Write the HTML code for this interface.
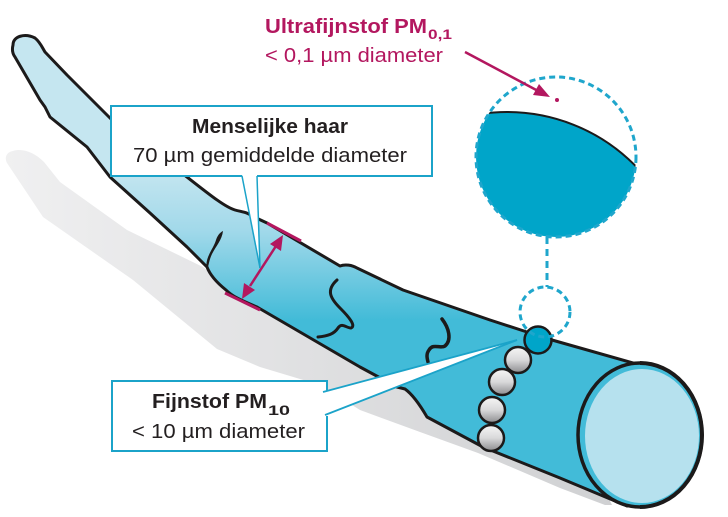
<!DOCTYPE html>
<html><head><meta charset="utf-8"><style>
html,body{margin:0;padding:0;background:#fff;}
svg{display:block;}
text{font-family:"Liberation Sans",sans-serif;}
</style></head><body>
<svg width="728" height="517" viewBox="0 0 728 517" xmlns="http://www.w3.org/2000/svg">
<defs>
<linearGradient id="sh" x1="0" y1="0" x2="620" y2="0" gradientUnits="userSpaceOnUse">
<stop offset="0" stop-color="#f0f0f1"/><stop offset="1" stop-color="#cfd0d2"/>
</linearGradient>
<linearGradient id="hair" x1="0" y1="170" x2="0" y2="320" gradientUnits="userSpaceOnUse">
<stop offset="0" stop-color="#c5e6f0"/><stop offset="0.4" stop-color="#a2d9ea"/><stop offset="1" stop-color="#42bbd8"/>
</linearGradient>
<linearGradient id="ball" x1="0" y1="0" x2="0" y2="1">
<stop offset="0" stop-color="#f6f6f6"/><stop offset="0.5" stop-color="#d9d9da"/><stop offset="1" stop-color="#8c8c8f"/>
</linearGradient>
<clipPath id="bc"><circle cx="556" cy="157" r="80"/></clipPath>
</defs>

<!-- shadow -->
<path d="M13,151 C22,148 34,152 44,162 L60,182 L127,230 L203,267 L235,292 L300,330 L400,380 L500,430 L600,480 L612,505 L605,505 L560,488 L478,453 L420,432 L360,410 L320,385 L260,367 L217,349 L133,280 L43,217 L7,163 C4,157 7,152 13,151 Z" fill="url(#sh)"/>

<!-- hair body -->
<path d="M13,45 C13,36 25,33 35,38 C40,42 42,47 45,52 L67,75 L110,118 L187,177 C210,195 225,207 235,210 C242,212 247,212 252,216 L267,223 L340,266 C345,264 352,265 357,268 L403,290 L490,320 L527,332 L552,340 L640,365 L640,505 L627,506 L560,478 L483,447 L427,417 C420,405 412,394 405,389 L397,387 L360,367 L257,307 C240,300 232,296 226,290 C216,282 210,275 207,267 L187,247 L150,213 L110,177 L87,147 L50,117 L45,107 L40,100 L15,57 C12,53 12,49 13,45 Z" fill="url(#hair)" stroke="#1c1a1a" stroke-width="3" stroke-linejoin="round"/>

<!-- squiggles -->
<path d="M207,270 C204,258 213,250 216,240 C218,234 221,232 223,231 C222,240 216,246 212,254 C209,260 209,265 207,270 Z" fill="#1c1a1a"/>
<path d="M337,280 C326,290 330,298 340,308 C350,318 356,326 351,328 C346,328 342,322 338,328 C334,334 328,336 318,337" fill="none" stroke="#1c1a1a" stroke-width="3" stroke-linecap="round"/>
<path d="M442,319 C449,328 452,340 445,346 C440,349 433,343 429,350 C426,354 427,358 428,362" fill="none" stroke="#1c1a1a" stroke-width="3.5" stroke-linecap="round"/>

<!-- end cap -->
<ellipse cx="640" cy="435" rx="62" ry="72" fill="#42bbd8" stroke="#1c1a1a" stroke-width="3.5"/>
<ellipse cx="642" cy="436" rx="57" ry="67" fill="#b6e1ee"/>
<path d="M640,363 A62,72 0 0 1 640,507" fill="none" stroke="#1c1a1a" stroke-width="4"/>

<!-- magenta measurement -->
<g stroke="#b3175f" fill="#b3175f">
<line x1="267" y1="223" x2="301" y2="241" stroke-width="3"/>
<line x1="225" y1="293" x2="260" y2="310" stroke-width="3"/>
<line x1="250" y1="286" x2="276" y2="246" stroke-width="2.5"/>
<polygon points="283,235 281,251 270,244" stroke="none"/>
<polygon points="242,299 244,283 255,290" stroke="none"/>
</g>

<!-- box 1 -->
<rect x="111" y="106" width="321" height="70" fill="#fff" stroke="#1ba3c9" stroke-width="2"/>
<polygon points="242,174.5 257,174.5 260,268" fill="#fff"/>
<line x1="242" y1="176" x2="260" y2="268" stroke="#1ba3c9" stroke-width="1.5"/>
<line x1="257" y1="176" x2="260" y2="268" stroke="#1ba3c9" stroke-width="1.5"/>
<text x="192" y="133" font-size="20" font-weight="bold" fill="#231f20" textLength="156" lengthAdjust="spacingAndGlyphs">Menselijke haar</text>
<text x="133" y="162" font-size="20" fill="#231f20" textLength="274" lengthAdjust="spacingAndGlyphs">70 µm gemiddelde diameter</text>

<!-- box 2 -->
<rect x="112" y="381" width="215" height="70" fill="#fff" stroke="#1ba3c9" stroke-width="2"/>
<polygon points="324,391 329,391 329,416 324,416 517,340" fill="#fff"/>
<polygon points="323,392 325,415 517,340" fill="#fff"/>
<line x1="323" y1="392" x2="517" y2="340" stroke="#1ba3c9" stroke-width="1.8"/>
<line x1="325" y1="415" x2="517" y2="340" stroke="#1ba3c9" stroke-width="1.8"/>
<text x="152" y="408" font-size="20" font-weight="bold" fill="#231f20" textLength="115" lengthAdjust="spacingAndGlyphs">Fijnstof PM</text>
<text x="268" y="415" font-size="14" font-weight="bold" fill="#231f20" textLength="22" lengthAdjust="spacingAndGlyphs">10</text>
<text x="132" y="438" font-size="20" fill="#231f20" textLength="173" lengthAdjust="spacingAndGlyphs">&lt; 10 µm diameter</text>

<!-- balls -->
<g stroke="#1c1a1a" stroke-width="2.5">
<circle cx="491" cy="438" r="13" fill="url(#ball)"/>
<circle cx="492" cy="410" r="13" fill="url(#ball)"/>
<circle cx="502" cy="382" r="13" fill="url(#ball)"/>
<circle cx="518" cy="360" r="13" fill="url(#ball)"/>
<circle cx="538" cy="340" r="13.5" fill="#00a5c9"/>
</g>

<!-- dashed small circle and connector -->
<circle cx="545" cy="312" r="25" fill="none" stroke="#1fa6cc" stroke-width="3" stroke-dasharray="6,4"/>
<line x1="547" y1="237" x2="547" y2="287" stroke="#1fa6cc" stroke-width="3" stroke-dasharray="7,5"/>

<!-- big circle -->
<circle cx="556" cy="157" r="80" fill="#fff"/>
<g clip-path="url(#bc)">
<circle cx="507" cy="292" r="180" fill="#00a5c9" stroke="#1c1a1a" stroke-width="2"/>
</g>
<circle cx="556" cy="157" r="80" fill="none" stroke="#1fa6cc" stroke-width="3" stroke-dasharray="6,4"/>

<!-- ultrafine arrow -->
<line x1="465" y1="52" x2="540" y2="92" stroke="#b3175f" stroke-width="2.5"/>
<polygon points="550,97 533,95 539,84" fill="#b3175f"/>
<circle cx="557" cy="100" r="2" fill="#b3175f"/>

<text x="265" y="33" font-size="20" font-weight="bold" fill="#b3175f" textLength="162" lengthAdjust="spacingAndGlyphs">Ultrafijnstof PM</text>
<text x="428" y="39" font-size="14" font-weight="bold" fill="#b3175f" textLength="24" lengthAdjust="spacingAndGlyphs">0,1</text>
<text x="265" y="62" font-size="20" fill="#b3175f" textLength="178" lengthAdjust="spacingAndGlyphs">&lt; 0,1 µm diameter</text>
</svg>
</body></html>
